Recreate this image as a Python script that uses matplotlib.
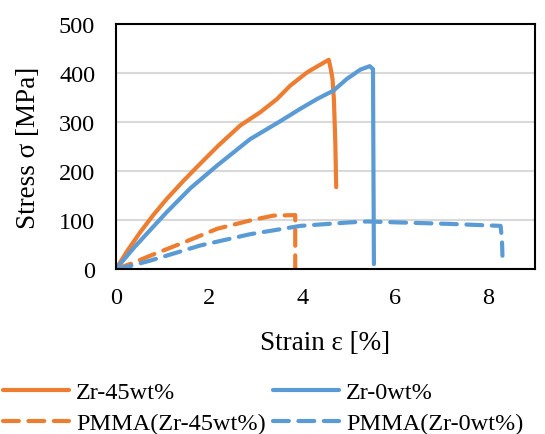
import numpy as np
import matplotlib
matplotlib.use("Agg")
import matplotlib.pyplot as plt

plt.rcParams["font.family"] = ["Liberation Serif", "DejaVu Serif"]

orange = "#ED7D31"
blue = "#5B9BD5"

# Zr-45wt% (solid orange)
zr45_strain = [0.0, 0.25, 0.52, 0.8, 1.09, 1.45, 1.81, 2.2, 2.67, 3.1, 3.46, 3.74, 4.1, 4.35, 4.57, 4.62, 4.65, 4.68, 4.71, 4.73]
zr45_stress = [0, 38, 75, 110, 143, 180, 215, 252, 293, 320, 347, 374, 401, 415, 427, 405, 388, 347, 260, 167]

# Zr-0wt% (solid blue)
zr0_strain = [0.0, 0.4, 1.09, 1.6, 2.17, 2.88, 3.5, 3.96, 4.32, 4.67, 4.96, 5.25, 5.45, 5.52, 5.53, 5.54]
zr0_stress = [0, 45, 116, 165, 211, 265, 300, 327, 347, 364, 388, 407, 414, 408, 200, 10]

# PMMA(Zr-45wt%) (dashed orange)
pmma45_strain = [0.0, 0.3, 0.73, 1.45, 2.17, 2.88, 3.38, 3.85, 3.85, 3.85]
pmma45_stress = [0, 10, 27, 54, 82, 99, 109, 110, 50, 0]

# PMMA(Zr-0wt%) (dashed blue)
pmma0_strain = [0.0, 0.3, 0.73, 1.81, 2.88, 3.96, 5.0, 5.39, 6.1, 7.18, 8.26, 8.29, 8.3]
pmma0_stress = [0, 6, 17, 48, 71, 88, 95, 97, 95, 92, 88, 60, 27]

fig = plt.figure(figsize=(5.45, 4.35), dpi=100)
ax = fig.add_axes([0.2128, 0.3793, 0.7689, 0.5632])

lw = 3.0
l1, = ax.plot(zr45_strain, zr45_stress, color=orange, lw=lw, solid_capstyle="round",
              solid_joinstyle="round", label="Zr-45wt%")
l2, = ax.plot(zr0_strain, zr0_stress, color=blue, lw=lw, solid_capstyle="round",
              solid_joinstyle="round", label="Zr-0wt%")
l3, = ax.plot(pmma45_strain, pmma45_stress, color=orange, lw=lw, dashes=(3.8, 2.3),
              dash_capstyle="round", label="PMMA(Zr-45wt%)")
l4, = ax.plot(pmma0_strain, pmma0_stress, color=blue, lw=lw, dashes=(3.8, 2.3),
              dash_capstyle="round", label="PMMA(Zr-0wt%)")

ax.set_xlim(0, 9)
ax.set_ylim(0, 500)
ax.set_xticks([0, 2, 4, 6, 8])
ax.set_yticks([0, 100, 200, 300, 400, 500])
ax.yaxis.grid(True, color="#D9D9D9", lw=1.5)
ax.set_axisbelow(True)
for s in ax.spines.values():
    s.set_color("black")
    s.set_linewidth(1.5)
ax.tick_params(length=0, labelsize=17.5)
ax.tick_params(axis="y", pad=15)
ax.tick_params(axis="x", pad=13)

ax.set_xlabel("Strain ε [%]", fontsize=19.5)
ax.set_ylabel("Stress σ [MPa]", fontsize=19.5)
ax.xaxis.set_label_coords(0.5, -0.25)
ax.yaxis.set_label_coords(-0.18, 0.5)

# row order: Zr-45, Zr-0 / PMMA45, PMMA0 (legend fills column-first)
fig.legend([l1, l3, l2, l4], [l.get_label() for l in (l1, l3, l2, l4)],
           loc="upper left", bbox_to_anchor=(3 / 545, 1 - 382 / 435),
           ncol=2, frameon=False, fontsize=17.5, handlelength=2.7, handletextpad=0.3,
           columnspacing=0.3, labelspacing=0.38, borderpad=0, borderaxespad=0)

fig.savefig("out.png", dpi=100)
